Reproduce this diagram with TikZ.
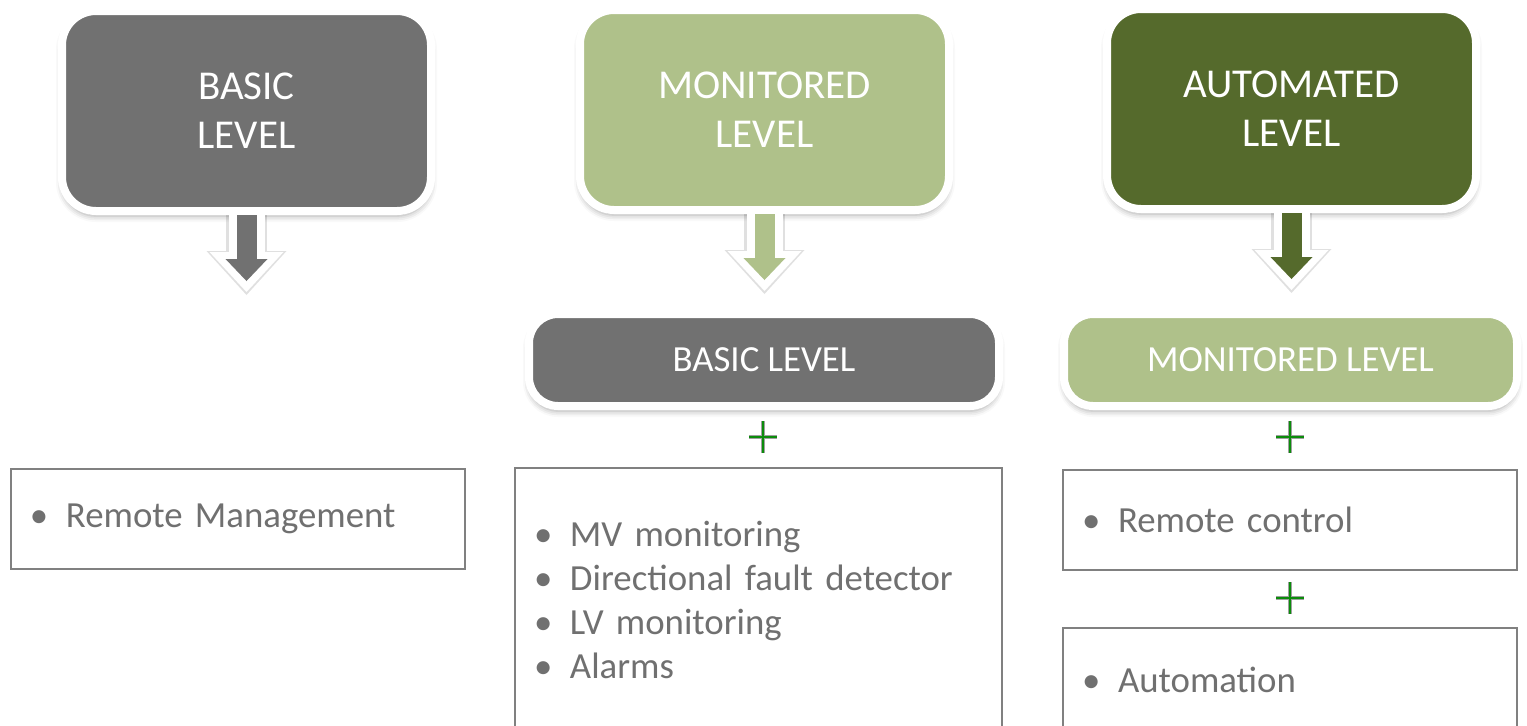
\documentclass[tikz,border=0pt]{standalone}
\usepackage{fontspec}
\setmainfont{Carlito}
\usetikzlibrary{arrows.meta, calc, positioning, shadows.blur}

\definecolor{lvlgray}{HTML}{717171}
\definecolor{lvllight}{HTML}{AFC18A}
\definecolor{lvldark}{HTML}{556A2C}
\definecolor{txtgray}{HTML}{707070}
\definecolor{boxgray}{HTML}{808080}
\definecolor{plusgreen}{HTML}{0C8C0C}

\newcommand{\itm}{\makebox[18pt][l]{\textbullet}}

\tikzset{
  levelbox/.style={draw=white, line width=4pt, fill=#1, rounded corners=17pt,
    minimum width=184.5pt, minimum height=100pt, align=center, text=white,
    font=\fontsize{20.5}{24.5}\selectfont,
    blur shadow={shadow xshift=0pt, shadow yshift=-2.5pt, shadow blur radius=3pt, shadow opacity=35}},
  subbox/.style={levelbox=#1, rounded corners=14.5pt, minimum height=46pt,
    font=\fontsize{18.4}{22}\selectfont},
  featbox/.style={draw=boxgray, line width=1pt, fill=white, minimum width=#1,
    text width=#1-19pt, inner xsep=9.5pt, align=left, text=txtgray,
    font=\fontsize{18.4}{22}\selectfont},
  blockarrow/.style={draw=#1, line width=10pt,
    -{Triangle[length=11pt, width=21pt, line width=0pt]},
    preaction={draw=black, opacity=0.12, line width=20.5pt, shorten >=-7pt,
      -{Triangle[length=22pt, width=40pt, line width=0pt]}},
    preaction={draw=white, line width=18pt, shorten >=-5.5pt,
      -{Triangle[length=20pt, width=37pt, line width=0pt]}}},
  plusmark/.style={inner sep=0pt, minimum width=13.5pt, minimum height=15.5pt},
  plusline/.style={draw=plusgreen, line width=0.9pt,
    preaction={draw=gray!75, line width=2.3pt}}
}

\begin{document}
\begin{tikzpicture}[x=0.5pt, y=-0.5pt]
\useasboundingbox (0,0) rectangle (1527,725);

% three levels
\node[levelbox=lvlgray]  (basic) at (246.5,111) {BASIC\\LEVEL};
\node[levelbox=lvllight] (monit) at (764.5,110) {MONITORED\\LEVEL};
\node[levelbox=lvldark]  (autom) at (1291.5,109) {AUTOMATED\\LEVEL};

\coordinate[below=33pt of basic] (tipB);
\coordinate[below=33pt of monit] (tipM);
\coordinate[below=33pt of autom] (tipA);
\draw[blockarrow=lvlgray]  (basic.south) -- (tipB);
\draw[blockarrow=lvllight] (monit.south) -- (tipM);
\draw[blockarrow=lvldark]  (autom.south) -- (tipA);

% inherited level
\node[subbox=lvlgray, minimum width=235pt]    (subB) at (764,360)    {BASIC LEVEL};
\node[subbox=lvllight, minimum width=226.5pt] (subM) at (1290.5,360) {MONITORED LEVEL};

% plus signs
\node[plusmark] (plusM)  at (763,437)  {};
\node[plusmark] (plusA)  at (1290,437) {};
\node[plusmark] (plusA2) at (1290,598) {};
\foreach \p in {plusM, plusA, plusA2}
  \draw[plusline] (\p.west) -- (\p.east) (\p.north) -- (\p.south);

% features
\node[featbox=227pt, minimum height=50pt] (featB) at (238,519)
  {\itm Remote Management};
\node[featbox=243.5pt, minimum height=132pt] (featM) at (758.5,600)
  {\itm MV monitoring\\\itm Directional fault detector\\\itm LV monitoring\\\itm Alarms};
\node[featbox=227pt, minimum height=50pt] (featA) at (1290,520)
  {\itm Remote control};
\node[featbox=227pt, minimum height=52pt] (featA2) at (1290,680)
  {\itm Automation};
\end{tikzpicture}
\end{document}
